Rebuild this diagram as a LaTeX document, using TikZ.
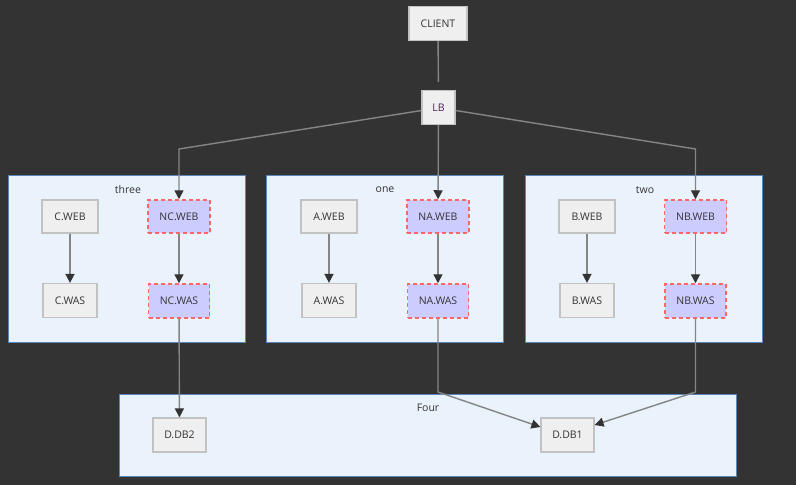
\documentclass[tikz,border=0pt]{standalone}
\usepackage{fontspec}
\setmainfont{Open Sans}
\usetikzlibrary{arrows.meta}
\definecolor{bg}{HTML}{333333}
\definecolor{clfill}{HTML}{EAF2FB}
\definecolor{cldraw}{HTML}{5A87B8}
\definecolor{nfill}{HTML}{EFEFEF}
\definecolor{ndraw}{HTML}{C2C2C2}
\definecolor{hfill}{HTML}{CCCCFF}
\definecolor{hdraw}{HTML}{FF6666}
\definecolor{edge}{HTML}{858585}
\definecolor{txt}{HTML}{333333}
\tikzset{
  cluster/.style={draw=cldraw, fill=clfill, line width=1pt},
  cltitle/.style={text=txt, font=\fontsize{10.5}{12}\selectfont, inner sep=0pt},
  plain/.style={draw=ndraw, fill=nfill, line width=1.2pt, minimum height=34pt, text=txt, font=\fontsize{10.5}{12}\selectfont, inner sep=0pt},
  hot/.style={draw=hdraw, fill=hfill, line width=1.5pt, dash pattern=on 4pt off 3pt, minimum height=34pt, text=txt, font=\fontsize{10.5}{12}\selectfont, inner sep=0pt},
  link/.style={draw=edge, line width=1.4pt, -{Triangle[length=9pt,width=9pt,color=txt]}},
  plainlink/.style={draw=edge, line width=1.4pt},
}
\begin{document}
\begin{tikzpicture}[x=1pt,y=-1pt]
\fill[bg] (0,0) rectangle (796,485);
\useasboundingbox (0,0) rectangle (796,485);
% clusters
\draw[cluster] (8,175) rectangle (245,342);
\draw[cluster] (266,175) rectangle (503,342);
\draw[cluster] (525,175) rectangle (762,342);
\draw[cluster] (119,394) rectangle (736,476);
\node[cltitle] (tthree) at (128,190) {three};
\node[cltitle] (tone) at (385,190) {one};
\node[cltitle] (ttwo) at (645,190) {two};
\node[cltitle] (tfour) at (428,408) {Four};
% nodes
\node[plain, minimum width=58pt] (client) at (438,23.5) {CLIENT};
\node[plain, minimum width=33pt, text={rgb,255:red,80;green,30;blue,100}] (lb) at (438.5,107.5) {LB};
\node[plain, minimum width=56pt, minimum height=33pt] (cweb) at (70,216.5) {C.WEB};
\node[plain, minimum width=54pt, minimum height=34pt] (cwas) at (70,300.5) {C.WAS};
\node[hot, minimum width=62pt, minimum height=33pt] (ncweb) at (179,216.5) {NC.WEB};
\node[hot, minimum width=61pt, minimum height=34pt] (ncwas) at (179,301) {NC.WAS};
\node[plain, minimum width=56pt, minimum height=33pt] (aweb) at (329,216.5) {A.WEB};
\node[plain, minimum width=54pt, minimum height=34pt] (awas) at (329,300.5) {A.WAS};
\node[hot, minimum width=62pt, minimum height=33pt] (naweb) at (438,216.5) {NA.WEB};
\node[hot, minimum width=61pt, minimum height=34pt] (nawas) at (438,301) {NA.WAS};
\node[plain, minimum width=56pt, minimum height=33pt] (bweb) at (587,216.5) {B.WEB};
\node[plain, minimum width=54pt, minimum height=34pt] (bwas) at (587,300.5) {B.WAS};
\node[hot, minimum width=62pt, minimum height=33pt] (nbweb) at (695.5,216.5) {NB.WEB};
\node[hot, minimum width=61pt, minimum height=34pt] (nbwas) at (695.5,301) {NB.WAS};
\node[plain, minimum width=53pt, minimum height=34pt] (ddb2) at (179.5,435) {D.DB2};
\node[plain, minimum width=53pt, minimum height=34pt] (ddb1) at (567.5,435) {D.DB1};
% bend coordinates
\coordinate (bl) at (179,149);
\coordinate (br) at (695.5,149);
\coordinate (ba) at (438,392);
\coordinate (bb) at (695.5,392);
% edges
\draw[plainlink, shorten >=8pt] (client) -- (lb);
\draw[link] (lb.west |- 0,110.5) -- (bl) -- (ncweb);
\draw[link] (lb) -- (naweb);
\draw[link] (lb.east |- 0,110.5) -- (br) -- (nbweb);
\draw[link] (cweb) -- (cwas);
\draw[link] (ncweb) -- (ncwas);
\draw[link] (aweb) -- (awas);
\draw[link] (naweb) -- (nawas);
\draw[link] (bweb) -- (bwas);
\draw[link] (nbweb) -- (nbwas);
\draw[link] (ncwas) -- (ddb2);
\draw[link] (nawas) -- (ba) -- (ddb1.north west |- 0,427);
\draw[link] (nbwas) -- (bb) -- (ddb1.north east |- 0,425);
\end{tikzpicture}
\end{document}
